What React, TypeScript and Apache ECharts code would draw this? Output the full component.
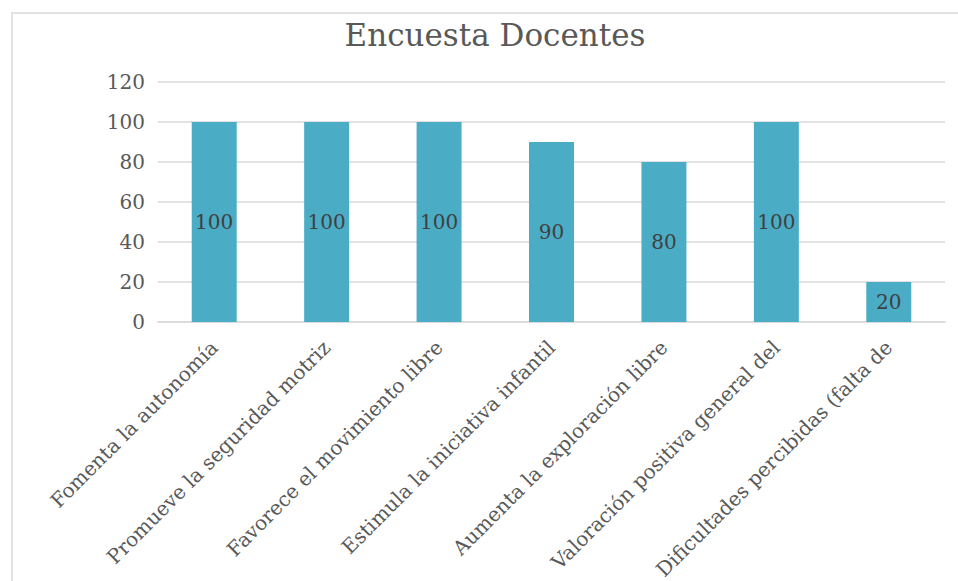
import React, { useEffect, useRef } from "react";
import * as echarts from "echarts";

const categories = [
  "Fomenta la autonomía",
  "Promueve la seguridad motriz",
  "Favorece el movimiento libre",
  "Estimula la iniciativa infantil",
  "Aumenta la exploración libre",
  "Valoración positiva general del",
  "Dificultades percibidas (falta de",
];
const values = [100, 100, 100, 90, 80, 100, 20];
const yMin = 0;
const yMax = 120;
const yInterval = 20;

export default function App() {
  const ref = useRef<HTMLDivElement>(null);
  useEffect(() => {
    if (!ref.current) return;
    const chart = echarts.init(ref.current, undefined, { renderer: "svg" });
    const font = "'DejaVu Serif', serif";
    chart.setOption({
      animation: false,
      backgroundColor: "#ffffff",
      title: {
        text: "Encuesta Docentes",
        left: 490,
        textAlign: "center",
        top: 14,
        textStyle: { fontFamily: font, fontSize: 31, fontWeight: "normal", color: "#595959" },
      },
      graphic: [
        {
          type: "rect",
          shape: { x: 12, y: 13, width: 1000, height: 700 },
          style: { fill: "none", stroke: "#d9d9d9", lineWidth: 1.5 },
          silent: true,
        },
      ],
      grid: { left: 158, right: 13, top: 82, bottom: 259, containLabel: false, outerBoundsMode: "none" },
      xAxis: {
        type: "category",
        data: categories,
        axisLine: { show: true, lineStyle: { color: "#d9d9d9", width: 1.5 } },
        axisTick: { show: false },
        axisLabel: {
          rotate: 45,
          interval: 0,
          margin: 22,
          fontFamily: font,
          fontSize: 20,
          color: "#595959",
        },
      },
      yAxis: {
        type: "value",
        min: yMin,
        max: yMax,
        interval: yInterval,
        axisLine: { show: false },
        axisTick: { show: false },
        splitLine: { lineStyle: { color: "#d9d9d9", width: 1.5 } },
        axisLabel: { fontFamily: font, fontSize: 20, color: "#595959", margin: 13 },
      },
      series: [
        {
          type: "bar",
          data: values,
          barWidth: "40%",
          itemStyle: { color: "#4BACC6" },
          label: {
            show: true,
            position: "inside",
            fontFamily: font,
            fontSize: 20,
            color: "#404040",
          },
        },
      ],
    });
    return () => chart.dispose();
  }, []);
  return <div ref={ref} style={{ width: 958, height: 581, position: "absolute", left: 0, top: 0 }} />;
}
